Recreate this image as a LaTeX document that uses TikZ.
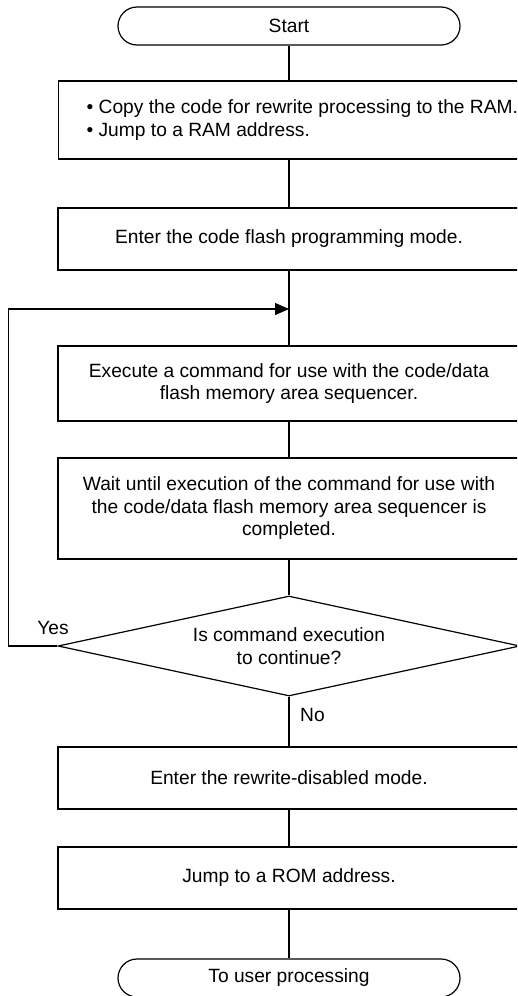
\documentclass[tikz,border=0pt]{standalone}
\usepackage{fontspec}
\setmainfont{Liberation Sans}
\usetikzlibrary{shapes.geometric,arrows.meta}
\begin{document}
\begin{tikzpicture}[x=1pt,y=-1pt,
  every node/.style={font=\fontsize{19.2}{22.5}\selectfont},
  ln/.style={line width=1.2pt,draw=black},
  term/.style={ln,rectangle,rounded corners=19pt,minimum width=342pt,minimum height=38pt,inner sep=0pt},
  proc/.style={ln,rectangle,minimum width=462pt,inner sep=0pt,align=center},
  dec/.style={ln,diamond,aspect=4.62,minimum width=462pt,minimum height=100pt,inner sep=0pt,align=center},
  lbl/.style={inner sep=0pt},
  flow/.style={line width=1.2pt},
  arr/.style={line width=1.2pt,-{Triangle[length=14pt,width=12pt]}}]
\useasboundingbox (0,0) rectangle (517,996);
\clip (0,0) rectangle (517,996);
\node[term] (start) at (289,26) {Start};
\node[ln,rectangle,anchor=west,inner xsep=28pt,inner ysep=0pt,minimum height=78pt,align=left] (b1) at (58,120)
  {\textbullet\ Copy the code for rewrite processing to the RAM.\\ \textbullet\ Jump to a RAM address.};
\node[proc,minimum height=62pt] (b2) at (289,239) {Enter the code flash programming mode.};
\coordinate (loop) at (289,309);
\node[proc,minimum height=75pt] (b3) at (289,383.5) {Execute a command for use with the code/data\\flash memory area sequencer.};
\node[proc,minimum height=101pt] (b4) at (289,508.5) {Wait until execution of the command for use with\\the code/data flash memory area sequencer is\\completed.};
\node[dec] (d) at (289,646) {Is command execution\\to continue?};
\node[proc,minimum height=62pt] (b5) at (289,778) {Enter the rewrite-disabled mode.};
\node[proc,minimum height=62pt] (b6) at (289,878) {Jump to a ROM address.};
\node[term] (end) at (289,978) {To user processing};
\coordinate (lx) at (8.3,0);
\node[lbl] (yes) at (53,628) {Yes};
\node[lbl,anchor=west] (no) at (300,715) {No};
\draw[flow] (start) -- (start |- b1.north);
\draw[flow] (start |- b1.south) -- (b2);
\draw[flow] (b2) -- (b3);
\draw[flow] (b3) -- (b4);
\draw[flow] (b4) -- (d);
\draw[flow] (d) -- (b5);
\draw[flow] (b5) -- (b6);
\draw[flow] (b6) -- (end);
\draw[arr] (d.west) -- (lx |- d.west) -- (lx |- loop) -- (loop);
\end{tikzpicture}
\end{document}
